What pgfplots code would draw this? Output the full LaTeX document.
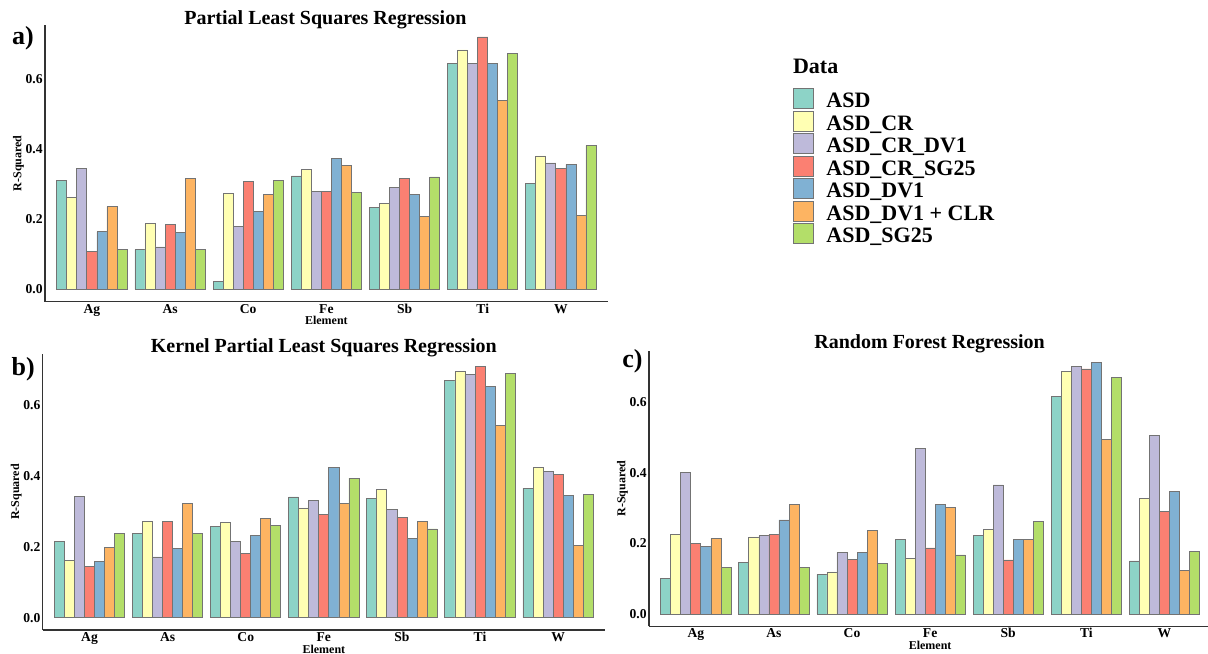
\documentclass[border=0pt]{standalone}
\usepackage{fontspec}
\setmainfont{Liberation Serif}
\usepackage{pgfplots}
\usepackage{pgfplotstable}
\pgfplotsset{compat=1.18}

\definecolor{c1}{HTML}{8DD3C7}
\definecolor{c2}{HTML}{FFFFB3}
\definecolor{c3}{HTML}{BEBADA}
\definecolor{c4}{HTML}{FB8072}
\definecolor{c5}{HTML}{80B1D3}
\definecolor{c6}{HTML}{FDB462}
\definecolor{c7}{HTML}{B3DE69}

% x: 0 Ag, 1 As, 2 Co, 3 Fe, 4 Sb, 5 Ti, 6 W
\pgfplotstableread{
x ASD CR CRDV CRSG DV CLR SG
0 0.312 0.262 0.346 0.109 0.164 0.236 0.114
1 0.113 0.188 0.121 0.186 0.163 0.318 0.114
2 0.022 0.275 0.180 0.307 0.223 0.272 0.312
3 0.324 0.342 0.279 0.280 0.375 0.355 0.277
4 0.234 0.245 0.292 0.318 0.272 0.208 0.321
5 0.645 0.684 0.645 0.721 0.645 0.540 0.675
6 0.302 0.381 0.361 0.345 0.357 0.211 0.411
}\dataA

\pgfplotstableread{
x ASD CR CRDV CRSG DV CLR SG
0 0.214 0.161 0.341 0.145 0.158 0.198 0.238
1 0.236 0.270 0.171 0.270 0.194 0.321 0.238
2 0.257 0.269 0.215 0.182 0.232 0.279 0.259
3 0.340 0.309 0.331 0.290 0.422 0.323 0.393
4 0.336 0.362 0.304 0.283 0.222 0.270 0.250
5 0.667 0.693 0.685 0.708 0.652 0.541 0.687
6 0.365 0.422 0.412 0.404 0.344 0.204 0.346
}\dataB

\pgfplotstableread{
x ASD CR CRDV CRSG DV CLR SG
0 0.101 0.226 0.400 0.200 0.192 0.214 0.132
1 0.145 0.218 0.222 0.225 0.266 0.309 0.132
2 0.112 0.119 0.174 0.155 0.174 0.236 0.142
3 0.210 0.158 0.468 0.187 0.310 0.301 0.167
4 0.221 0.239 0.365 0.153 0.212 0.212 0.263
5 0.615 0.685 0.701 0.693 0.711 0.495 0.668
6 0.150 0.328 0.505 0.290 0.346 0.124 0.178
}\dataC

\pgfplotsset{
  panel/.style={
    scale only axis,
    xmin=-0.6, xmax=6.6,
    enlargelimits=false,
    axis x line=bottom, axis y line=left,
    axis line style={-, draw=black!80, line width=0.7pt},
    xtick={0,1,2,3,4,5,6},
    xticklabels={Ag,As,Co,Fe,Sb,Ti,W},
    ytick={0,0.2,0.4,0.6},
    yticklabels={0.0,0.2,0.4,0.6},
    tick style={draw=none},
    tick label style={font=\bfseries\fontsize{6.8}{8}\selectfont},
    xticklabel style={anchor=base, yshift=-1.5pt, inner sep=0pt},
    yticklabel style={anchor=east, inner sep=0pt, xshift=1.15pt},
    xlabel={Element}, ylabel={R-Squared},
    label style={font=\bfseries\fontsize{6}{7}\selectfont},
    xlabel style={at={(axis description cs:0.5,-0.084)}, anchor=base, inner sep=0pt},
    ylabel style={at={(axis description cs:-0.047,0.5)}, anchor=center, inner sep=0pt},
    ybar=0pt, bar width=5.02pt,
    every axis plot/.append style={draw=black!55, line width=0.4pt},
  },
  legkey/.style={legend image code/.code={\draw[##1, draw=black!55, line width=0.5pt] (0pt,-4.5pt) rectangle (9.8pt,5.5pt);}},
}

\begin{document}
\begin{tikzpicture}
\useasboundingbox (0,0) rectangle (604pt,326.5pt);

% ---------- a) ----------
\begin{axis}[panel, at={(22.5pt,175.725pt)}, anchor=south west,
  width=281.4pt, height=138.25pt, ymin=-0.035, ymax=0.755,
  legend cell align=left,
  legend style={at={(1.3286,0.7734)}, anchor=north west, draw=none, fill=none,
    inner sep=0pt, row sep=0pt,
    /tikz/every odd column/.append style={column sep=6.35pt},
    nodes={inner sep=0pt, text height=9.5pt, text depth=1.55pt,
      font=\bfseries\fontsize{11}{12}\selectfont}},
]
\addplot[fill=c1, legkey] table[x=x,y=ASD]{\dataA};
\addplot[fill=c2, legkey] table[x=x,y=CR]{\dataA};
\addplot[fill=c3, legkey] table[x=x,y=CRDV]{\dataA};
\addplot[fill=c4, legkey] table[x=x,y=CRSG]{\dataA};
\addplot[fill=c5, legkey] table[x=x,y=DV]{\dataA};
\addplot[fill=c6, legkey] table[x=x,y=CLR]{\dataA};
\addplot[fill=c7, legkey] table[x=x,y=SG]{\dataA};
\legend{ASD, ASD\_CR, ASD\_CR\_DV1, ASD\_CR\_SG25, ASD\_DV1, ASD\_DV1 + CLR, ASD\_SG25}
\end{axis}

% ---------- b) ----------
\begin{axis}[panel, at={(21.35pt,11.45pt)}, anchor=south west,
  width=281.15pt, height=138.1pt, ymin=-0.035, ymax=0.743]
\addplot[fill=c1] table[x=x,y=ASD]{\dataB};
\addplot[fill=c2] table[x=x,y=CR]{\dataB};
\addplot[fill=c3] table[x=x,y=CRDV]{\dataB};
\addplot[fill=c4] table[x=x,y=CRSG]{\dataB};
\addplot[fill=c5] table[x=x,y=DV]{\dataB};
\addplot[fill=c6] table[x=x,y=CLR]{\dataB};
\addplot[fill=c7] table[x=x,y=SG]{\dataB};
\end{axis}

% ---------- c) ----------
\begin{axis}[panel, at={(324.5pt,13.3pt)}, anchor=south west,
  width=281.15pt, height=137.9pt, ymin=-0.035, ymax=0.745]
\addplot[fill=c1] table[x=x,y=ASD]{\dataC};
\addplot[fill=c2] table[x=x,y=CR]{\dataC};
\addplot[fill=c3] table[x=x,y=CRDV]{\dataC};
\addplot[fill=c4] table[x=x,y=CRSG]{\dataC};
\addplot[fill=c5] table[x=x,y=DV]{\dataC};
\addplot[fill=c6] table[x=x,y=CLR]{\dataC};
\addplot[fill=c7] table[x=x,y=SG]{\dataC};
\end{axis}

% titles and panel letters
\node[font=\bfseries\fontsize{10}{12}\selectfont, anchor=center] at (162.7pt,316.85pt) {Partial Least Squares Regression};
\node[font=\bfseries\fontsize{10}{12}\selectfont, anchor=center] at (161.9pt,152.85pt) {Kernel Partial Least Squares Regression};
\node[font=\bfseries\fontsize{10}{12}\selectfont, anchor=center] at (464.8pt,154.5pt) {Random Forest Regression};
\node[font=\bfseries\fontsize{13}{15}\selectfont, anchor=center] at (11.5pt,307.5pt) {a)};
\node[font=\bfseries\fontsize{13}{15}\selectfont, anchor=center] at (11.65pt,142pt) {b)};
\node[font=\bfseries\fontsize{13}{15}\selectfont, anchor=center] at (316.25pt,145.65pt) {c)};
\node[font=\bfseries\fontsize{11}{12}\selectfont, anchor=west, inner sep=0pt] at (396.35pt,293.15pt) {Data};
\end{tikzpicture}
\end{document}
